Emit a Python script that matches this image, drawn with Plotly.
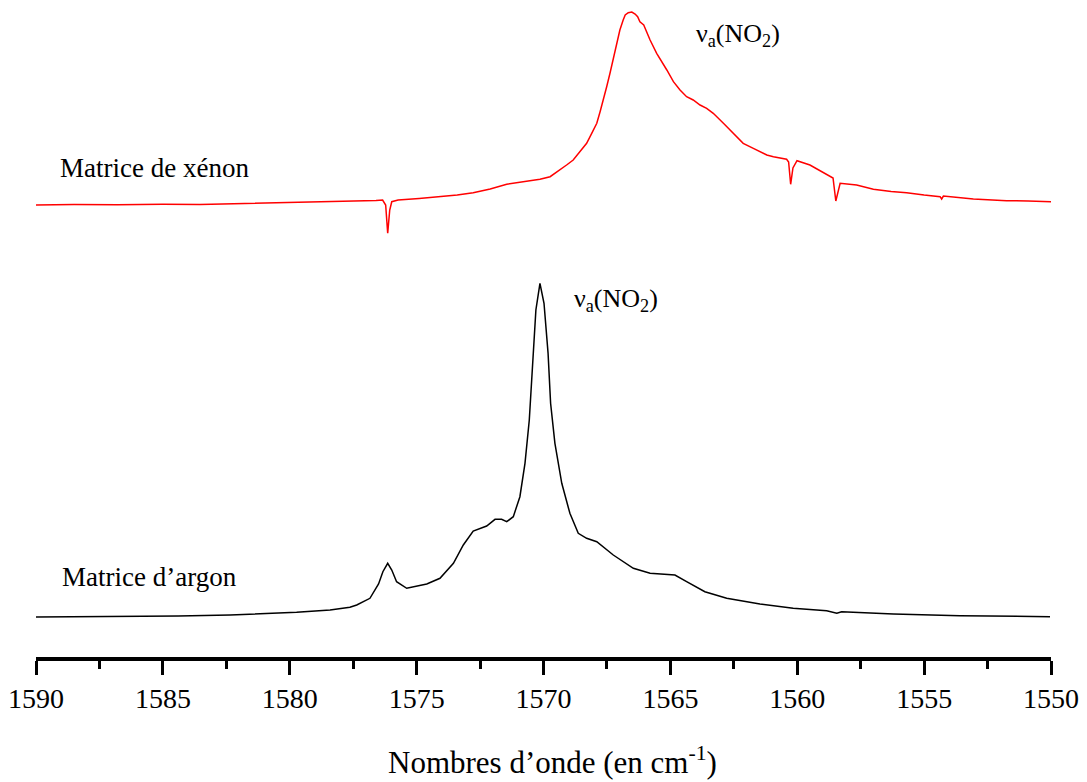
import plotly.graph_objects as go

# Spectre IR de NO2 : bande nu_a(NO2) en matrice d'argon et de xénon
# nombres d'onde (cm-1) et absorbance relative à la ligne de base

argon_wn = [1590.00, 1588.20, 1586.30, 1584.40, 1582.35, 1580.80, 1579.73, 1578.41,
            1577.63, 1577.36, 1576.84, 1576.50, 1576.33, 1576.14, 1575.98, 1575.79,
            1575.39, 1574.60, 1574.08, 1573.55, 1573.16, 1572.77, 1572.24, 1571.91,
            1571.65, 1571.45, 1571.19, 1570.93, 1570.73, 1570.56, 1570.43, 1570.30,
            1570.14, 1569.98, 1569.82, 1569.72, 1569.55, 1569.28, 1568.96, 1568.63,
            1568.30, 1567.90, 1567.25, 1566.46, 1565.80, 1564.82, 1564.36, 1563.64,
            1562.78, 1561.47, 1560.16, 1558.84, 1558.44, 1558.25, 1556.21, 1553.59,
            1550.04]
argon_abs = [0.0000, 0.0003, 0.0005, 0.0010, 0.0020, 0.0035, 0.0047, 0.0070,
             0.0097, 0.0120, 0.0187, 0.0330, 0.0453, 0.0537, 0.0470, 0.0353,
             0.0287, 0.0330, 0.0387, 0.0537, 0.0720, 0.0860, 0.0910, 0.0977,
             0.0977, 0.0953, 0.1003, 0.1203, 0.1537, 0.1970, 0.2470, 0.3070,
             0.3337, 0.3137, 0.2637, 0.2137, 0.1737, 0.1337, 0.1037, 0.0837,
             0.0787, 0.0753, 0.0620, 0.0487, 0.0437, 0.0420, 0.0353, 0.0253,
             0.0187, 0.0130, 0.0087, 0.0063, 0.0037, 0.0053, 0.0030, 0.0013,
             0.0003]

xenon_wn = [1590.00, 1588.50, 1586.80, 1585.00, 1583.54, 1581.80, 1580.00, 1578.02,
            1576.60, 1576.34, 1576.22, 1576.14, 1576.06, 1575.98, 1575.73, 1574.90,
            1574.08, 1573.40, 1572.77, 1572.10, 1571.45, 1570.80, 1570.14, 1569.74,
            1569.35, 1569.09, 1568.83, 1568.56, 1568.30, 1568.10, 1567.90, 1567.77,
            1567.64, 1567.51, 1567.38, 1567.25, 1567.12, 1566.99, 1566.86, 1566.78,
            1566.66, 1566.52, 1566.39, 1566.29, 1566.20, 1566.05, 1565.80, 1565.54,
            1565.14, 1564.88, 1564.62, 1564.36, 1564.10, 1563.83, 1563.57, 1563.31,
            1562.91, 1562.52, 1562.13, 1561.73, 1561.20, 1560.94, 1560.42, 1560.34,
            1560.26, 1560.17, 1560.01, 1559.50, 1558.71, 1558.59, 1558.48, 1558.39,
            1558.31, 1557.66, 1557.00, 1556.30, 1555.69, 1555.00, 1554.37, 1554.31,
            1554.24, 1553.06, 1552.40, 1551.75, 1550.90, 1549.97]
xenon_abs = [0.0000, 0.0005, 0.0002, 0.0008, 0.0005, 0.0015, 0.0020, 0.0033,
             0.0045, 0.0050, 0.0000, -0.0283, -0.0050, 0.0033, 0.0050, 0.0065,
             0.0083, 0.0100, 0.0123, 0.0160, 0.0207, 0.0230, 0.0257, 0.0283,
             0.0350, 0.0400, 0.0450, 0.0533, 0.0617, 0.0717, 0.0817, 0.0933,
             0.1050, 0.1183, 0.1317, 0.1467, 0.1617, 0.1750, 0.1850, 0.1900,
             0.1923, 0.1930, 0.1910, 0.1883, 0.1833, 0.1800, 0.1650, 0.1517,
             0.1350, 0.1233, 0.1150, 0.1083, 0.1050, 0.1000, 0.0967, 0.0917,
             0.0817, 0.0717, 0.0617, 0.0567, 0.0500, 0.0483, 0.0457, 0.0430,
             0.0207, 0.0370, 0.0443, 0.0400, 0.0283, 0.0270, 0.0040, 0.0150,
             0.0217, 0.0200, 0.0157, 0.0135, 0.0123, 0.0100, 0.0083, 0.0060,
             0.0090, 0.0060, 0.0050, 0.0043, 0.0040, 0.0033]

# décalages verticaux des deux spectres
argon_offset = 0.040
xenon_offset = 0.452

major_ticks = [1590, 1585, 1580, 1575, 1570, 1565, 1560, 1555, 1550]

serif = "Liberation Serif, Times New Roman, serif"

fig = go.Figure()
fig.add_trace(go.Scatter(
    x=xenon_wn, y=[v + xenon_offset for v in xenon_abs],
    mode="lines", line=dict(color="#ff0000", width=1.5),
    name="Matrice de xénon", showlegend=False))
fig.add_trace(go.Scatter(
    x=argon_wn, y=[v + argon_offset for v in argon_abs],
    mode="lines", line=dict(color="#000000", width=1.5),
    name="Matrice d’argon", showlegend=False))

fig.update_layout(
    width=1087, height=782,
    margin=dict(l=36, r=36, t=0, b=125),
    paper_bgcolor="white", plot_bgcolor="white",
    font=dict(family=serif, size=26, color="black"),
    xaxis=dict(
        range=[1590, 1550], tickmode="array", tickvals=major_ticks,
        ticktext=[str(t) for t in major_ticks],
        ticks="outside", ticklen=14, tickwidth=2.5, tickcolor="black",
        showline=True, linewidth=3.5, linecolor="black",
        showgrid=False, zeroline=False,
        tickfont=dict(family=serif, size=28, color="black"),
        minor=dict(dtick=2.5, tick0=1550, ticks="outside", ticklen=8,
                   tickwidth=2.5, tickcolor="black", showgrid=False),
    ),
    yaxis=dict(range=[0, 0.657], visible=False, showgrid=False, zeroline=False),
    annotations=[
        dict(x=1589.13, y=0.489, xref="x", yref="y", text="Matrice de xénon",
             showarrow=False, xanchor="left", yanchor="middle",
             font=dict(family=serif, size=27, color="black")),
        dict(x=1589.05, y=0.080, xref="x", yref="y", text="Matrice d’argon",
             showarrow=False, xanchor="left", yanchor="middle",
             font=dict(family=serif, size=27, color="black")),
        dict(x=1564.07, y=0.622, xref="x", yref="y",
             text="ν<sub>a</sub>(NO<sub>2</sub>)",
             showarrow=False, xanchor="left", yanchor="middle",
             font=dict(family=serif, size=26, color="black")),
        dict(x=1568.88, y=0.357, xref="x", yref="y",
             text="ν<sub>a</sub>(NO<sub>2</sub>)",
             showarrow=False, xanchor="left", yanchor="middle",
             font=dict(family=serif, size=26, color="black")),
        dict(x=0.509, y=-0.157, xref="paper", yref="paper",
             text="Nombres d’onde (en cm<sup>-1</sup>)",
             showarrow=False, xanchor="center", yanchor="middle",
             font=dict(family=serif, size=31, color="black")),
    ],
)

fig.write_html("out.html")
